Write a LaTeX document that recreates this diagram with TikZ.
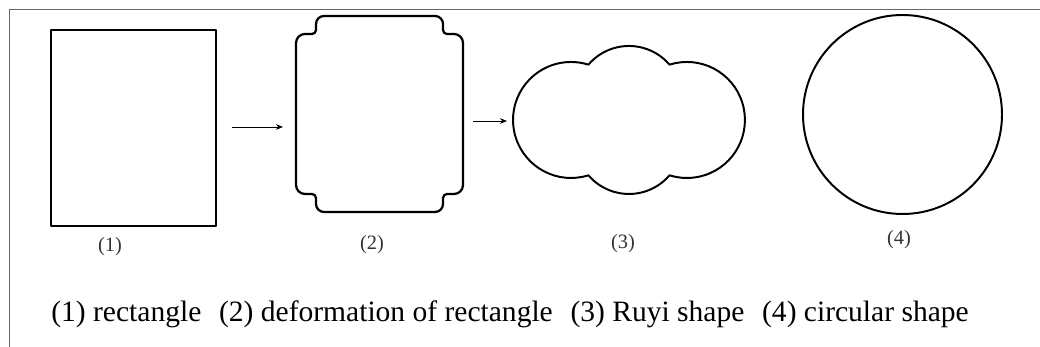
\documentclass[tikz,border=0pt]{standalone}
\usepackage{fontspec}
\setmainfont{Liberation Serif}
\usetikzlibrary{arrows.meta}
\begin{document}
\begin{tikzpicture}[x=0.025cm,y=0.025cm,
  outline/.style={draw=black,line width=1.4pt,line join=round},
  flow/.style={draw=black,line width=0.6pt,-{Stealth[length=5pt,width=4pt]}},
  tag/.style={font=\fontsize{14.5}{16}\selectfont,text=black!80},
  caption/.style={font=\fontsize{21}{25}\selectfont,anchor=base}]
\useasboundingbox (0,0) rectangle (1040,347);
% frame lines on the top and left
\draw[black!60,line width=0.6pt] (9,0) -- (9,338) -- (1040,338);

% (1) rectangle
\draw[outline] (51,121) rectangle (216,317);

% (2) rectangle with notched corners
\draw[outline,line width=1.6pt] (324,331) -- (435,331)
  arc[start angle=90,end angle=0,radius=8] -- ++(0,-6)
  arc[start angle=180,end angle=270,radius=4] -- ++(7,0)
  arc[start angle=90,end angle=0,radius=9]
  -- (463,162)
  arc[start angle=0,end angle=-90,radius=9] -- ++(-7,0)
  arc[start angle=90,end angle=180,radius=4] -- ++(0,-6)
  arc[start angle=0,end angle=-90,radius=8]
  -- (324,135)
  arc[start angle=270,end angle=180,radius=8] -- ++(0,6)
  arc[start angle=0,end angle=90,radius=4] -- ++(-7,0)
  arc[start angle=270,end angle=180,radius=9]
  -- (296,304)
  arc[start angle=180,end angle=90,radius=9] -- ++(7,0)
  arc[start angle=270,end angle=360,radius=4] -- ++(0,6)
  arc[start angle=180,end angle=90,radius=8] -- cycle;

% (3) Ruyi cloud: four circular lobes
\draw[outline] (588.4,282.35)
  arc[start angle=139.44,end angle=40.56,radius=53.4]
  arc[start angle=107.45,end angle=-107.45,radius=58]
  arc[start angle=-40.56,end angle=-139.44,radius=53.4]
  arc[start angle=-72.55,end angle=-287.45,radius=58] -- cycle;

% (4) circle
\draw[outline] (902.5,232.5) circle[radius=99.5];

% arrows between the shapes
\coordinate (r1) at (232,220);
\coordinate (d2) at (283,220);
\coordinate (r2) at (473,226);
\coordinate (d3) at (507,226);
\draw[flow] (r1) -- (d2);
\draw[flow] (r2) -- (d3);

% numbers under the shapes
\node[tag] (t1) at (110,100) {(1)};
\node[tag] (t2) at (372,102) {(2)};
\node[tag] (t3) at (623,103) {(3)};
\node[tag] (t4) at (899,107) {(4)};

% caption
\node[caption] (cap) at (510,25) {(1) rectangle\hspace{0.6em}(2) deformation of rectangle\hspace{0.6em}(3) Ruyi shape\hspace{0.6em}(4) circular shape};
\end{tikzpicture}
\end{document}
